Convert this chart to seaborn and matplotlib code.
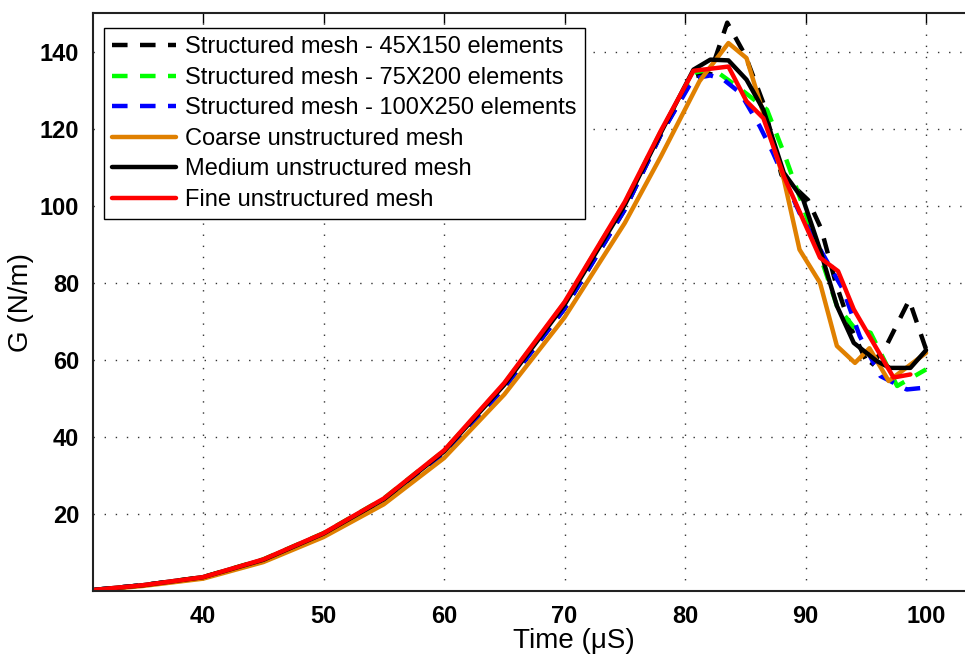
import matplotlib
matplotlib.use("Agg")
import matplotlib.pyplot as plt
import seaborn as sns
import pandas as pd

# ---------------- data ----------------
labels = [
    "Structured mesh - 45X150 elements",
    "Structured mesh - 75X200 elements",
    "Structured mesh - 100X250 elements",
    "Coarse unstructured mesh",
    "Medium unstructured mesh",
    "Fine unstructured mesh",
]

x_rise = [31, 35, 40, 45, 50, 55, 60, 65, 70, 75, 78]

s45_x = x_rise + [80.7, 82.1, 83.5, 85.0, 86.5, 88.0, 90.2, 91.3, 92.5, 93.8, 95.3, 96.7, 98.6, 100]
s45_y = [0.3, 1.5, 3.5, 8.0, 14.7, 23.5, 35.7, 52.8, 73.3, 99.0, 118.5,
         133.5, 134.5, 147.5, 139.0, 126.6, 108.0, 101.5, 94.0, 80.0, 68.0, 58.0, 63.6, 75.5, 62.7]

s75_x = x_rise + [80.7, 82.3, 84.3, 86.8, 88.2, 89.6, 91.0, 92.6, 94.0, 95.4, 97.6, 100]
s75_y = [0.3, 1.5, 3.6, 8.2, 15.0, 24.0, 36.4, 53.8, 74.8, 100.8, 119.3,
         134.5, 135.5, 131.0, 124.9, 113.7, 101.5, 89.0, 74.0, 68.5, 67.0, 53.2, 57.5]

s100_x = x_rise + [80.7, 82.1, 83.2, 84.6, 86.2, 87.3, 89.5, 92.0, 93.1, 94.5, 96.2, 98.4, 100]
s100_y = [0.3, 1.5, 3.5, 8.0, 14.7, 23.5, 35.7, 52.8, 73.3, 99.0, 118.5,
          133.0, 133.8, 132.7, 129.2, 120.6, 113.7, 98.1, 84.3, 78.3, 66.1, 55.8, 52.3, 52.8]

coarse_x = x_rise + [81.2, 83.6, 85.1, 86.5, 88.2, 89.5, 91.2, 92.6, 94.1, 95.3, 96.9, 100]
coarse_y = [0.2, 1.3, 3.2, 7.5, 14.0, 22.5, 34.5, 51.0, 71.0, 95.5, 112.8,
            132.3, 142.2, 138.3, 124.0, 106.8, 88.6, 80.0, 63.6, 59.2, 63.0, 54.5, 61.8]

medium_x = x_rise + [80.7, 82.1, 83.6, 85.1, 86.5, 88.2, 89.8, 91.2, 92.6, 94.0, 95.9, 97.0, 98.7, 100]
medium_y = [0.3, 1.5, 3.6, 8.1, 14.9, 23.8, 36.2, 53.5, 74.3, 100.2, 119.0,
            135.3, 137.9, 137.7, 132.7, 124.9, 108.5, 101.6, 88.6, 74.0, 64.4, 59.7, 57.9, 57.9, 62.5]

fine_x = x_rise + [80.7, 83.6, 85.1, 86.5, 88.2, 91.2, 92.7, 94.0, 97.3, 98.7]
fine_y = [0.3, 1.5, 3.6, 8.2, 15.0, 24.0, 36.5, 54.0, 75.0, 101.0, 119.5,
          135.0, 136.1, 127.1, 122.7, 107.6, 86.5, 83.0, 73.1, 55.4, 56.2]

x_ticks = [40, 50, 60, 70, 80, 90, 100]
y_ticks = [20, 40, 60, 80, 100, 120, 140]

series = [
    (s45_x, s45_y, labels[0], "#000000", "dash"),
    (s75_x, s75_y, labels[1], "#00FF00", "dash"),
    (s100_x, s100_y, labels[2], "#0000FF", "dash"),
    (coarse_x, coarse_y, labels[3], "#E08000", "solid"),
    (medium_x, medium_y, labels[4], "#000000", "solid"),
    (fine_x, fine_y, labels[5], "#FF0000", "solid"),
]

# ---------------- styling ----------------
sns.set_style("white")
plt.rcParams["font.family"] = ["Liberation Sans", "DejaVu Sans"]
plt.rcParams["text.color"] = "black"
plt.rcParams["axes.labelcolor"] = "black"
plt.rcParams["xtick.color"] = "black"
plt.rcParams["ytick.color"] = "black"

fig = plt.figure(figsize=(9.65, 6.65), dpi=100)
W, H = 965, 665
left_px, right_px, top_px, bottom_px = 93, 1055, 13, 591
ax = fig.add_axes([left_px / W, (H - bottom_px) / H,
                   (right_px - left_px) / W, (bottom_px - top_px) / H])

for xs, ys, lab, col, sty in series:
    df = pd.DataFrame({"t": xs, "g": ys})
    ls = (0, (3.5, 2.8)) if sty == "dash" else "-"
    sns.lineplot(data=df, x="t", y="g", ax=ax, color=col, linewidth=3.2,
                 linestyle=ls, label=lab, sort=False, estimator=None)

ax.set_xlim(30.87, 110.7)
ax.set_ylim(0, 150)
ax.set_xticks(x_ticks)
ax.set_yticks(y_ticks)
ax.grid(True, linestyle=(0, (1, 7)), color="#333333", linewidth=1.0)
ax.tick_params(direction="in", top=True, right=True, length=7, width=1,
               labelsize=17, pad=10, colors="black")
for lbl in ax.get_xticklabels() + ax.get_yticklabels():
    lbl.set_fontweight("bold")
for sp in ax.spines.values():
    sp.set_linewidth(1.5)
    sp.set_color("#222222")

ax.set_xlabel("Time (\u03bcS)", fontsize=20, labelpad=0, color="black")
ax.set_ylabel("G (N/m)", fontsize=20, labelpad=4, color="black")

leg = ax.legend(loc="upper left", bbox_to_anchor=((104 - left_px) / (right_px - left_px),
                                                   (bottom_px - 28) / (bottom_px - top_px)),
                borderaxespad=0, fontsize=17, handlelength=2.7, labelspacing=0.36,
                borderpad=0.35, handletextpad=0.4, fancybox=False, framealpha=1,
                edgecolor="black", labelcolor="black")
leg.get_frame().set_linewidth(1.0)

fig.savefig("out.png", dpi=100)
